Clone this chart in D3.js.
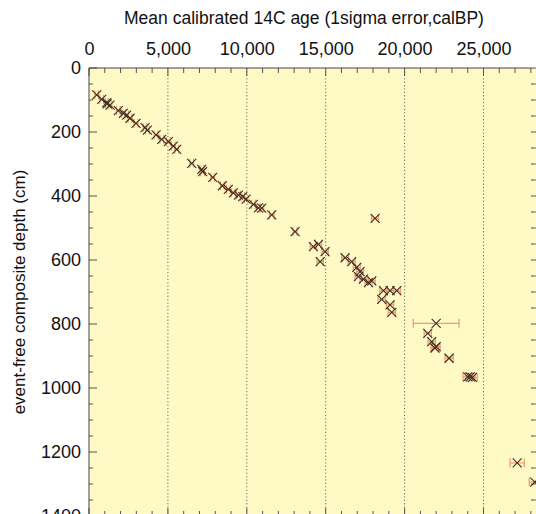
<!DOCTYPE html>
<html><head><meta charset="utf-8">
<script src="https://cdn.jsdelivr.net/npm/d3@7"></script>
<style>body{margin:0;background:#fff}svg{display:block}</style>
</head><body><svg id="c" width="536" height="514"></svg>
<script>
// Data: mean calibrated age (cal BP), 1-sigma error (years), depth (cm)
const ages = [488,805,1122,1150,1331,1860,2177,2387,2600,2980,3550,3700,4250,4610,5030,5345,5560,
  6510,7145,7200,7840,8450,8830,9150,9470,9745,9955,10420,10735,10950,11580,13060,14220,14540,14960,14650,
  18130,16230,16650,16970,17180,17075,17390,17710,17920,18660,19080,19505,18550,19080,19190,
  22000,21470,21720,22000,21920,22820,24000,24155,24300,27135,28250];
const errors = [120,120,100,100,120,120,120,120,120,120,120,120,120,120,120,120,120,
  120,120,120,120,120,120,120,120,120,120,120,120,120,150,130,200,200,200,200,
  220,220,220,220,220,220,220,220,220,230,230,230,230,230,230,
  1450,230,230,250,250,260,300,300,300,450,350];
const depths = [84,98,108,112,116,133,142,147,157,173,186,194,209,223,230,244,254,
  298,317,324,342,368,379,390,397,402,410,426,437,438,459,511,558,551,574,605,
  470,593,605,623,636,652,660,671,665,696,696,696,723,740,764,
  798,829,855,871,875,907,965,965,967,1234,1294];
const xTicks = [0,5000,10000,15000,20000,25000];
const yTicks = [0,200,400,600,800,1000,1200,1400];
const xTitle = "Mean calibrated 14C age (1sigma error,calBP)";
const yTitle = "event-free composite depth (cm)";

const svg = d3.select("#c");
const font = "'Liberation Sans', Arial, sans-serif";
const x = d3.scaleLinear().domain([0, 28000]).range([89, 89 + 28000/5000*78.9]);
const y = d3.scaleLinear().domain([0, 1400]).range([68, 516]);

svg.append("rect").attr("x", 89).attr("y", 68).attr("width", 536-89).attr("height", 516-68)
  .attr("fill", "#fff9c6");

// dotted grid
svg.append("g").selectAll("line").data(xTicks.filter(d => d > 0)).join("line")
  .attr("x1", d => x(d)).attr("x2", d => x(d)).attr("y1", 68).attr("y2", 516)
  .attr("stroke", "#6f6a5a").attr("stroke-width", 1).attr("stroke-dasharray", "1.2,2.2");

// top axis
const topAxis = d3.axisTop(x).tickValues(xTicks).tickFormat(d3.format(",")).tickSize(0).tickPadding(13);
const gt = svg.append("g").attr("transform", "translate(0,68)").call(topAxis);
gt.select(".domain").remove();
gt.selectAll("text").attr("font-family", font).attr("font-size", 18).attr("fill", "#111");
const minorX = d3.range(0, 28001, 1000);
svg.append("g").selectAll("line").data(minorX).join("line")
  .attr("x1", d => x(d)).attr("x2", d => x(d)).attr("y1", 68).attr("y2", d => d % 5000 === 0 ? 76 : 73)
  .attr("stroke", "#555").attr("stroke-width", 1);
svg.append("g").selectAll("line").data(minorX).join("line")
  .attr("x1", d => x(d)).attr("x2", d => x(d)).attr("y1", 516).attr("y2", d => d % 5000 === 0 ? 508 : 511)
  .attr("stroke", "#555").attr("stroke-width", 1);

// left axis
const leftAxis = d3.axisLeft(y).tickValues(yTicks).tickFormat(d3.format("d")).tickSize(0).tickPadding(8);
const gl = svg.append("g").attr("transform", "translate(89,0)").call(leftAxis);
gl.select(".domain").remove();
gl.selectAll("text").attr("font-family", font).attr("font-size", 18).attr("fill", "#111");
const minorY = d3.range(0, 1401, 50);
svg.append("g").selectAll("line").data(minorY).join("line")
  .attr("x1", 89).attr("x2", d => d % 200 === 0 ? 97 : 93).attr("y1", d => y(d)).attr("y2", d => y(d))
  .attr("stroke", "#555").attr("stroke-width", 1);
svg.append("g").selectAll("line").data(minorY).join("line")
  .attr("x1", x(28000)).attr("x2", d => d % 200 === 0 ? x(28000)+8 : x(28000)+5).attr("y1", d => y(d)).attr("y2", d => y(d))
  .attr("stroke", "#555").attr("stroke-width", 1);

// frame lines
svg.append("line").attr("x1", 89).attr("x2", 89).attr("y1", 68).attr("y2", 516).attr("stroke", "#444").attr("stroke-width", 1);
svg.append("line").attr("x1", 89).attr("x2", x(28000)).attr("y1", 68).attr("y2", 68).attr("stroke", "#444").attr("stroke-width", 1);

// titles
svg.append("text").attr("x", 304).attr("y", 24).attr("text-anchor", "middle")
  .attr("font-family", font).attr("font-size", 17.5).attr("fill", "#111").text(xTitle);
svg.append("text").attr("transform", "translate(25,292) rotate(-90)").attr("text-anchor", "middle")
  .attr("font-family", font).attr("font-size", 17).attr("fill", "#111").text(yTitle);

// points
const pts = ages.map((a, i) => ({a, e: errors[i], d: depths[i]}));
const gp = svg.append("g");
const eb = gp.selectAll("g.eb").data(pts).join("g").attr("class", "eb");
eb.append("line").attr("x1", p => x(p.a - p.e)).attr("x2", p => x(p.a + p.e))
  .attr("y1", p => y(p.d)).attr("y2", p => y(p.d)).attr("stroke", "#ec9a6e").attr("stroke-width", 1.2);
eb.append("line").attr("x1", p => x(p.a - p.e)).attr("x2", p => x(p.a - p.e))
  .attr("y1", p => y(p.d) - 4.5).attr("y2", p => y(p.d) + 4.5).attr("stroke", "#ec9a6e").attr("stroke-width", 1.2);
eb.append("line").attr("x1", p => x(p.a + p.e)).attr("x2", p => x(p.a + p.e))
  .attr("y1", p => y(p.d) - 4.5).attr("y2", p => y(p.d) + 4.5).attr("stroke", "#ec9a6e").attr("stroke-width", 1.2);
const mk = gp.selectAll("path.mk").data(pts).join("path").attr("class", "mk")
  .attr("d", p => { const cx = x(p.a), cy = y(p.d), r = 4.5;
    return `M${cx-r},${cy-r}L${cx+r},${cy+r}M${cx-r},${cy+r}L${cx+r},${cy-r}`; })
  .attr("stroke", "#3e3026").attr("stroke-width", 1.1).attr("fill", "none");
</script></body></html>
